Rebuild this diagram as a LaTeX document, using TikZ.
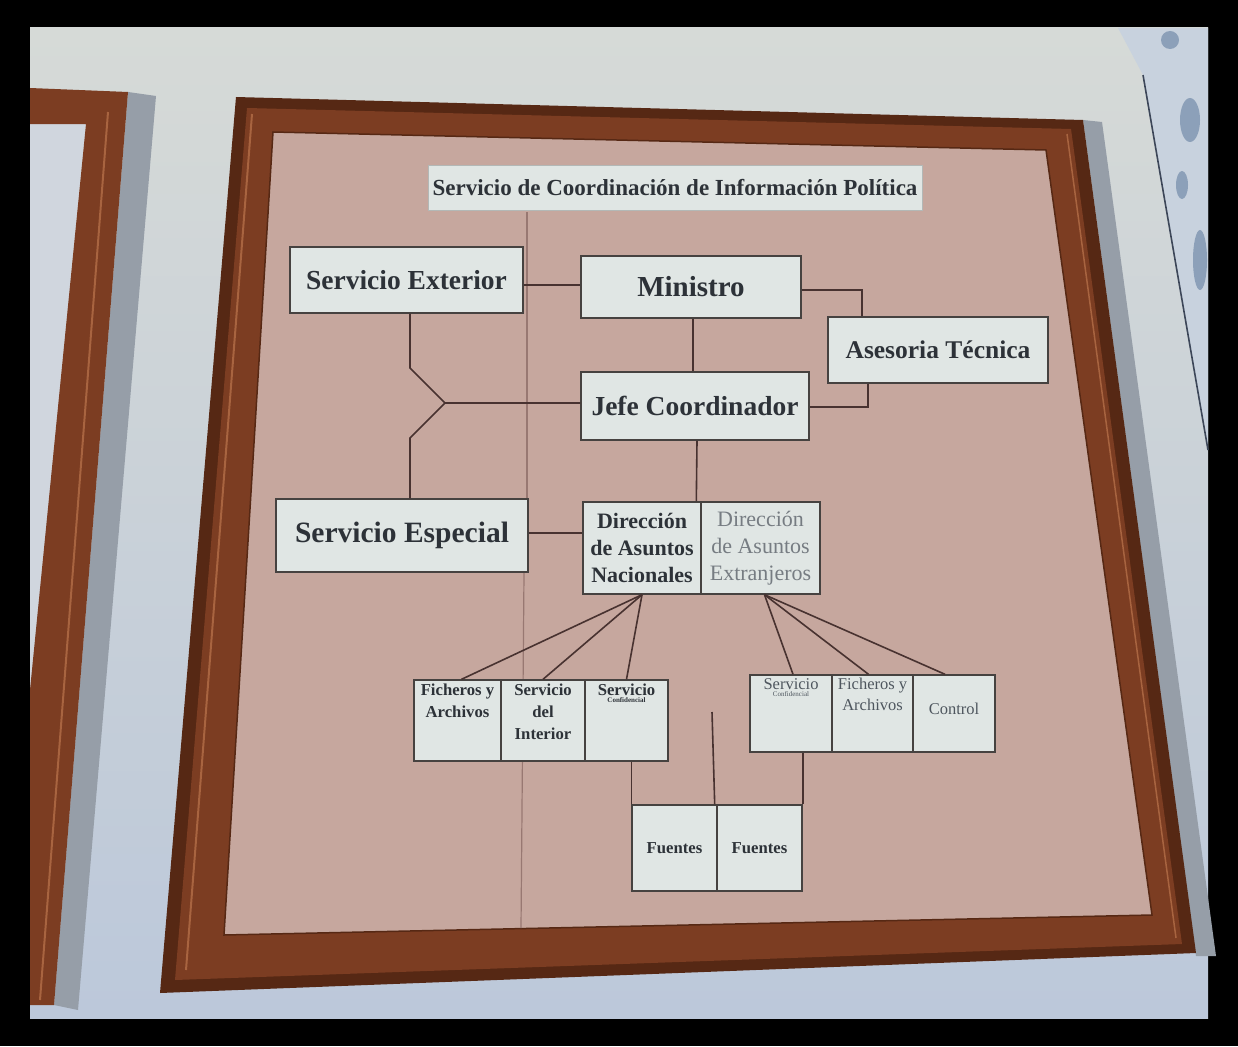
\documentclass[tikz,border=0pt]{standalone}
\usepackage{fontspec}
\setmainfont{Liberation Serif}
\definecolor{wallA}{RGB}{214,218,215}
\definecolor{wallB}{RGB}{188,200,218}
\definecolor{shadowC}{RGB}{150,158,168}
\definecolor{frameD}{RGB}{86,40,20}
\definecolor{frameM}{RGB}{124,61,34}
\definecolor{frameL}{RGB}{168,100,64}
\definecolor{paperC}{RGB}{198,167,158}
\definecolor{otherpaper}{RGB}{208,214,222}
\definecolor{posterC}{RGB}{200,210,222}
\definecolor{posterD}{RGB}{140,160,185}
\definecolor{boxfill}{RGB}{224,230,228}
\definecolor{boxline}{RGB}{70,66,64}
\definecolor{ink}{RGB}{45,50,56}
\definecolor{inkM}{RGB}{78,86,94}
\definecolor{inkL}{RGB}{118,124,130}
\definecolor{wire}{RGB}{72,50,48}
\definecolor{foldC}{RGB}{152,120,114}
\begin{document}
\begin{tikzpicture}[x=1pt,y=-1pt,
  box/.style={draw=boxline, fill=boxfill, line width=1.4pt, inner sep=0pt, align=center, text=ink},
  txt/.style={inner sep=0pt, align=center, text=ink},
  big/.style={font=\fontsize{27.5}{29}\selectfont\bfseries},
  mid/.style={font=\fontsize{22}{27}\selectfont\bfseries},
  small/.style={font=\fontsize{16.7}{22}\selectfont\bfseries},
  smallr/.style={font=\fontsize{16.5}{21}\selectfont, text=inkM},
  tiny/.style={font=\fontsize{7}{8}\selectfont\bfseries},
  wirestyle/.style={draw=wire, line width=1.6pt},
  foldstyle/.style={draw=foldC, line width=1.2pt}]
\useasboundingbox (0,0) rectangle (1238,1046);
% black border and wall
\fill[black] (0,0) rectangle (1238,1046);
\shade[top color=wallA, bottom color=wallB] (30,28) rectangle (1208,1018);
% right poster
\fill[posterC] (1118,28) -- (1208,28) -- (1208,450) -- (1143,75) -- cycle;
\fill[posterD] (1170,40) circle[radius=9];
\fill[posterD] (1190,120) ellipse[x radius=10, y radius=22];
\fill[posterD] (1200,260) ellipse[x radius=7, y radius=30];
\fill[posterD] (1182,185) ellipse[x radius=6, y radius=14];
\draw[draw={rgb,255:red,60;green,70;blue,88}, line width=1.6pt] (1143,75) -- (1208,450);
% left frame
\fill[otherpaper] (30,124) -- (86,124) -- (30,690) -- cycle;
\fill[shadowC] (128,92) -- (156,96) -- (78,1010) -- (54,1005) -- cycle;
\fill[frameM] (30,88) -- (128,92) -- (54,1005) -- (30,1005) -- (30,690) -- (86,124) -- (30,124) -- cycle;
\draw[frameL, line width=2pt] (108,112) -- (40,1000);
% main frame shadow
\fill[shadowC] (1083,120) -- (1102,122) -- (1216,956) -- (1196,956) -- cycle;
% main frame
\fill[frameD] (236,97) -- (1083,120) -- (1196,953) -- (160,993) -- cycle;
\fill[frameM] (247,108) -- (1071,129) -- (1182,944) -- (175,980) -- cycle;
\draw[frameL, line width=2pt] (252,114) -- (186,970);
\draw[frameL, line width=1.5pt] (1067,134) -- (1176,938);
\fill[paperC] (273,132) -- (1046,150) -- (1152,915) -- (224,935) -- cycle;
\draw[frameD, line width=1.5pt] (273,132) -- (1046,150) -- (1152,915) -- (224,935) -- cycle;
% paper folds
\draw[foldstyle] (527,212) -- (527,499);
\draw[foldstyle] (524,573) -- (521,928);
% title
\node[fill=boxfill, draw=boxfill!80!black, line width=0.6pt, minimum width=494pt, minimum height=45pt, inner sep=0pt, text=ink, font=\fontsize{23}{25}\selectfont\bfseries] (title) at (675,187.5) {Servicio de Coordinación de Información Política};
% main boxes
\node[box, big, minimum width=233pt, minimum height=66pt] (sext) at (406.5,280) {Servicio Exterior};
\node[box, minimum width=220pt, minimum height=62pt, font=\fontsize{29}{31}\selectfont\bfseries] (min) at (691,287) {Ministro};
\node[box, minimum width=220pt, minimum height=66pt, font=\fontsize{25.5}{27}\selectfont\bfseries] (ases) at (938,350) {Asesoria Técnica};
\node[box, big, minimum width=228pt, minimum height=68pt] (jefe) at (695,406) {Jefe Coordinador};
\node[box, minimum width=252pt, minimum height=73pt, font=\fontsize{29.5}{31}\selectfont\bfseries] (sesp) at (402,535.5) {Servicio Especial};
\node[box, mid, minimum width=118pt, minimum height=92pt] (dan) at (642,548) {Dirección\\de Asuntos\\Nacionales};
\node[box, minimum width=119pt, minimum height=92pt, text=inkL, font=\fontsize{22}{27}\selectfont] (dae) at (760.5,548) {Dirección\\de Asuntos\\Extranjeros};
% bottom left group
\node[box, minimum width=87pt, minimum height=81pt] (fa) at (457.5,720.5) {};
\node[box, minimum width=84pt, minimum height=81pt] (si) at (543,720.5) {};
\node[box, minimum width=83pt, minimum height=81pt] (sc) at (626.5,720.5) {};
\node[txt, small, anchor=north] (fa-t) at ([yshift=-4pt]fa.north) {Ficheros y\\Archivos};
\node[txt, small, anchor=north] (si-t) at ([yshift=-4pt]si.north) {Servicio\\del\\Interior};
\node[txt, small, anchor=north] (sc-t) at ([yshift=-4pt]sc.north) {Servicio};
\node[txt, tiny, anchor=north] (sc-t2) at ([yshift=-2pt]sc-t.south) {Confidencial};
% bottom right group
\node[box, minimum width=82pt, minimum height=77pt] (sc2) at (791,713.5) {};
\node[box, minimum width=81pt, minimum height=77pt] (fa2) at (872.5,713.5) {};
\node[box, minimum width=82pt, minimum height=77pt] (ctl) at (954,713.5) {};
\node[txt, smallr, anchor=north] (sc2-t) at ([yshift=-4pt]sc2.north) {Servicio};
\node[txt, font=\fontsize{7}{8}\selectfont, text=inkM, anchor=north] (sc2-t2) at ([yshift=-2pt]sc2-t.south) {Confidencial};
\node[txt, smallr, anchor=north] (fa2-t) at ([yshift=-4pt]fa2.north) {Ficheros y\\Archivos};
\node[txt, smallr] (ctl-t) at (954,709) {Control};
% fuentes
\node[box, small, minimum width=85pt, minimum height=86pt] (f1) at (674.5,848) {Fuentes};
\node[box, small, minimum width=85pt, minimum height=86pt] (f2) at (759.5,848) {Fuentes};
% connectors
\coordinate (fork) at (445,403);
\coordinate (bendU) at (410,368);
\coordinate (bendD) at (410,438);
\coordinate (midtop) at (712,712);
\draw[wirestyle] ([yshift=-5pt]sext.east) -- ([yshift=2pt]min.west);
\draw[wirestyle] ([xshift=2pt]min.south) -- ([xshift=-2pt]jefe.north);
\draw[wirestyle] ([yshift=-3pt]min.east) -| ([xshift=-76pt]ases.north);
\draw[wirestyle] ([yshift=-1pt]jefe.east) -| ([xshift=-70pt]ases.south);
\draw[wirestyle] ([yshift=3pt]jefe.west) -- (fork) -- (bendU) -- ([xshift=3.5pt]sext.south);
\draw[wirestyle] (fork) -- (bendD) -- ([xshift=8pt]sesp.north);
\draw[wirestyle] ([yshift=2.5pt]sesp.east) -- ([yshift=15pt]dan.west);
\draw[wirestyle] ([xshift=2pt]jefe.south) -- ([xshift=-4pt]dae.north west);
\draw[wirestyle] (dan.south) -- ([xshift=4pt]fa.north);
\draw[wirestyle] (dan.south) -- (si.north);
\draw[wirestyle] (dan.south) -- (sc.north);
\draw[wirestyle] ([xshift=4pt]dae.south) -- ([xshift=2pt]sc2.north);
\draw[wirestyle] ([xshift=4pt]dae.south) -- ([xshift=-4pt]fa2.north);
\draw[wirestyle] ([xshift=4pt]dae.south) -- ([xshift=-9pt]ctl.north);
\draw[wirestyle] (f1.north west |- sc.south) -- (f1.north west);
\draw[wirestyle] (f2.north east |- sc2.south) -- (f2.north east);
\draw[wirestyle] (midtop) -- ([xshift=-3pt]f1.north east);
\end{tikzpicture}
\end{document}
